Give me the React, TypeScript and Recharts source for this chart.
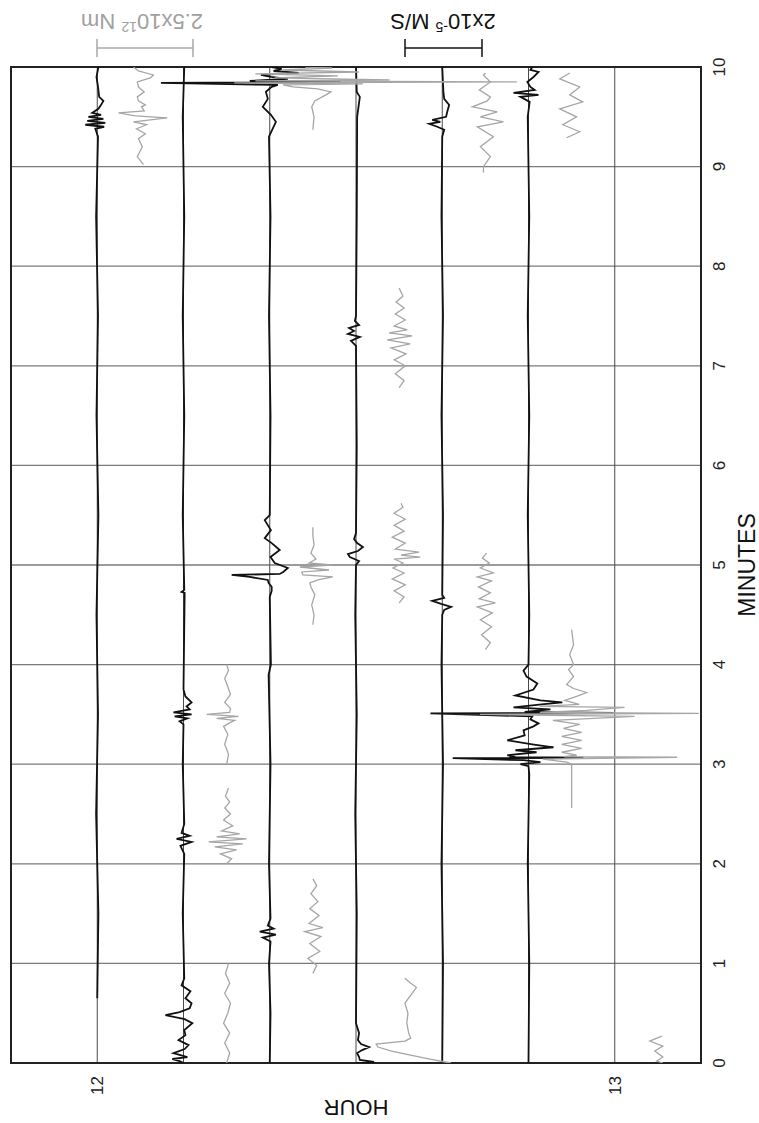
import { CartesianGrid, Line, LineChart, ReferenceArea, XAxis, YAxis } from 'recharts';

const FONT = '"Liberation Sans", Arial, Helvetica, sans-serif';

type Pt = [number, number]; // [minute, amplitude]

const MINUTE_TICKS = [0, 1, 2, 3, 4, 5, 6, 7, 8, 9, 10];
const HOUR_TICKS = [12, 73 / 6, 74 / 6, 12.5, 76 / 6, 77 / 6, 13];
const Y_MIN = 71 / 6;
const Y_MAX = 79 / 6;

// hours of row offset per unit of amplitude (from the scale bars)
const VEL_GAIN = 0.00743; // per 1e-6 m/s
const MOM_GAIN = 0.00741; // per 1e11 Nm

// velocity rows, amplitude in 1e-6 m/s
const VEL_1200: Pt[] = [
  [0.65, 0], [1.5, 0.3], [2.5, -0.3], [3.5, 0.2], [4.5, -0.2], [5.5, 0.3], [6.5, -0.2], [7.5, 0.2],
  [8.5, -0.3], [9.3, 0.2], [9.38, -0.5], [9.4, 1.8], [9.42, -3.1], [9.44, 2.1], [9.46, -2.6], [9.48, 1.6],
  [9.5, -2.3], [9.52, 1.0], [9.54, -1.3], [9.58, 0.3], [9.62, 1.0], [9.66, 1.6], [9.7, 0.5], [9.8, 0.2],
  [9.9, -0.2], [10, 0.3],
];
const VEL_1210: Pt[] = [
  [0, 0], [0.02, -1.0], [0.04, -2.9], [0.06, 1.0], [0.1, -2.6], [0.14, 0.3], [0.18, 1.3], [0.23, -1.3],
  [0.28, 0.5], [0.33, 0.2], [0.4, 2.3], [0.44, 0.3], [0.48, -4.7], [0.51, -1.0], [0.55, 1.6], [0.6, 2.1],
  [0.65, 0.5], [0.72, 1.8], [0.78, -0.5], [0.85, 0.2], [1.5, -0.2], [2.1, 0.2], [2.18, -0.8], [2.22, 2.1],
  [2.25, -1.8], [2.28, 1.6], [2.31, -0.5], [2.4, 0.2], [3.0, -0.2], [3.4, 0], [3.43, -1.0], [3.46, 1.0],
  [3.48, -2.3], [3.5, 2.1], [3.52, -2.6], [3.55, 1.6], [3.58, 0.8], [3.62, 2.1], [3.68, 0.5], [3.75, 0],
  [4.72, 0.3], [4.73, -0.5], [4.75, 0.2], [5.5, -0.2], [6.5, 0.2], [7.5, -0.2], [8.5, 0.2], [9.5, -0.2],
  [10, 0.2],
];
const VEL_1220: Pt[] = [
  [0, 0], [0.5, 0.2], [1.0, -0.2], [1.22, 0.2], [1.26, -1.8], [1.29, 1.6], [1.32, -2.6], [1.35, 1.0],
  [1.38, -0.5], [1.45, 0.2], [2.0, -0.2], [3.0, 0.2], [3.9, -0.3], [4.0, 0.3], [4.68, 0], [4.74, 0.5],
  [4.78, 0.5], [4.82, -0.3], [4.85, -0.5], [4.88, -5.2], [4.9, -9.9], [4.91, 2.6], [4.93, 3.5], [4.97, 4.7],
  [5.02, 1.3], [5.08, 0.2], [5.15, 2.6], [5.22, 0.5], [5.27, -1.3], [5.35, 0.3], [5.45, -1.3], [5.5, 0],
  [6.5, 0.2], [7.5, -0.2], [8.5, 0.2], [9.3, -0.2], [9.45, 1.6], [9.52, 0.3], [9.6, -1.8], [9.68, -0.5],
  [9.75, -1.0], [9.8, 0.5], [9.82, 2.1], [9.84, -28.3], [9.85, 18.4], [9.86, -5.2], [9.88, 4.7], [9.9, 0.3],
  [9.92, -2.3], [9.94, 7.5], [9.96, 1.0], [9.98, 3.1], [10, 0.5],
];
const VEL_1230: Pt[] = [
  [0, 0], [0.01, 4.7], [0.03, 1.0], [0.06, 0.8], [0.1, 0.3], [0.13, 1.6], [0.16, 3.4], [0.19, 1.3],
  [0.23, 0.5], [0.3, 0.8], [0.4, 0], [1.5, 0.2], [2.5, -0.2], [3.5, 0.2], [4.5, -0.2], [5.0, 0],
  [5.04, 0.8], [5.08, -1.6], [5.11, -2.1], [5.14, 0.5], [5.18, 1.8], [5.22, 0.3], [5.26, -0.5], [5.32, 0],
  [6.2, 0.2], [7.2, 0], [7.25, -1.3], [7.29, 1.0], [7.32, -2.1], [7.35, -0.5], [7.38, -1.8], [7.41, 0.8],
  [7.45, -0.3], [7.5, 0], [8.5, 0.2], [9.5, 0.3], [9.7, 1.0], [9.75, 0.2], [10, 0],
];
const VEL_1240: Pt[] = [
  [0, 0], [1, 0.2], [2, -0.2], [3, 0.2], [4, -0.2], [4.5, 0], [4.55, 0.5], [4.58, 2.3], [4.61, -0.3],
  [4.64, -2.6], [4.67, 0.5], [4.7, 0], [5.5, 0.2], [6.5, -0.2], [7.5, 0.2], [8.5, -0.2], [9.3, 0],
  [9.37, 0.5], [9.4, -1.3], [9.43, -3.4], [9.45, -0.5], [9.47, -2.6], [9.5, 1.0], [9.55, 1.3], [9.62, 1.8],
  [9.68, 0.5], [9.75, 0.3], [10, 0],
];
const VEL_1250: Pt[] = [
  [0, 0], [1, 0.2], [2, -0.2], [2.9, 0.2], [2.98, 0], [3.0, -2.1], [3.02, 3.1], [3.04, -1.3], [3.06, -19.7],
  [3.065, 14.3], [3.07, -3.4], [3.09, -5.5], [3.12, 2.1], [3.14, -3.4], [3.17, 6.5], [3.2, 1.0], [3.24, -5.5],
  [3.29, -1.0], [3.34, -1.3], [3.38, 1.3], [3.41, 2.6], [3.45, 0.5], [3.48, 1.0], [3.51, -25.5], [3.515, 22.1],
  [3.525, -1.0], [3.55, 5.7], [3.57, -3.9], [3.6, 3.4], [3.62, 8.8], [3.64, 3.1], [3.69, -3.4], [3.75, 1.3],
  [3.81, 2.3], [3.88, -0.5], [3.94, -1.3], [4.0, 0], [4.5, 0.2], [5.5, -0.2], [6.5, 0.2], [7.5, -0.2],
  [8.5, 0.2], [9.5, -0.2], [9.65, 0.3], [9.7, -2.1], [9.72, 2.6], [9.74, -3.9], [9.77, 1.6], [9.8, 0.5],
  [9.85, -0.3], [9.9, 1.3], [9.95, 2.6], [9.97, 0.5], [10, 1.0],
];

// moment rows (grey), amplitude in 1e11 Nm, drawn only where recorded
const MOM_1205_A: Pt[] = [
  [9.02, 0.8], [9.1, -0.8], [9.2, 0.5], [9.28, -0.5], [9.33, 1.3], [9.38, -1.0], [9.42, 1.6], [9.45, -1.8],
  [9.49, 7.0], [9.51, -1.3], [9.54, -5.7], [9.56, 1.0], [9.6, 0.3], [9.62, 1.3], [9.66, -0.5], [9.7, -0.8],
  [9.75, 1.0], [9.8, -0.5], [9.85, -0.8], [9.89, 2.6], [9.92, 3.4], [9.96, -0.5], [10, -1.8],
];
const MOM_1215_A: Pt[] = [
  [0, 0], [0.1, 0.8], [0.2, -0.5], [0.3, 0.8], [0.4, -0.8], [0.5, 0.3], [0.6, 1.0], [0.7, -0.5], [0.8, 0.8],
  [0.9, -0.3], [1.0, 0.5],
];
const MOM_1215_B: Pt[] = [
  [2.0, 0], [2.05, 1.3], [2.1, -1.6], [2.14, 2.6], [2.17, -3.1], [2.2, 4.2], [2.22, -4.7], [2.25, 5.2],
  [2.27, -2.6], [2.3, 3.4], [2.33, -1.3], [2.38, 1.6], [2.44, -0.8], [2.5, 1.0], [2.56, -0.5], [2.62, 0.8],
  [2.68, -0.3], [2.76, 0.5],
];
const MOM_1215_C: Pt[] = [
  [3.0, 0], [3.1, 0.5], [3.2, -0.5], [3.3, 0.3], [3.38, -0.8], [3.42, 1.0], [3.44, 2.1], [3.46, -2.6],
  [3.48, 3.1], [3.5, -5.2], [3.52, 0.8], [3.56, 1.0], [3.62, -0.5], [3.7, 1.0], [3.78, 0.3], [3.86, -0.5],
  [3.94, 0.5], [4.0, 0],
];
const MOM_1225_A: Pt[] = [
  [0.9, 0], [0.98, 1.0], [1.05, -1.3], [1.12, 1.8], [1.2, -0.8], [1.27, 2.1], [1.32, -2.1], [1.36, 2.6],
  [1.4, -1.0], [1.48, 1.6], [1.55, -0.8], [1.62, 1.3], [1.7, -0.5], [1.78, 1.0], [1.85, 0],
];
const MOM_1225_B: Pt[] = [
  [4.4, 0], [4.5, 0.3], [4.6, -0.3], [4.7, 0.5], [4.78, -0.5], [4.82, -0.8], [4.85, 1.3], [4.88, 5.2],
  [4.9, -2.6], [4.93, -2.9], [4.95, 4.2], [4.98, -3.4], [5.0, 4.9], [5.02, -1.0], [5.06, 0.8], [5.12, -0.5],
  [5.2, 0.3], [5.3, 0], [5.38, 0],
];
const MOM_1225_C: Pt[] = [
  [9.37, 0], [9.5, 0.3], [9.6, -0.3], [9.66, 0.5], [9.72, 3.4], [9.75, 4.7], [9.78, 1.3], [9.8, -5.2],
  [9.82, -7.8], [9.83, 13], [9.84, -20.5], [9.85, 53.2], [9.86, -15], [9.87, 20], [9.89, -10], [9.91, 6.5],
  [9.93, -15], [9.95, 12], [9.97, -8], [9.99, 5], [10, -2],
];
const MOM_1235_A: Pt[] = [
  [0, 13.5], [0.01, 12], [0.04, 8], [0.08, 3], [0.12, -2], [0.16, -5.5], [0.19, -6], [0.22, 1.5], [0.25, 3],
  [0.3, 2.5], [0.4, 2], [0.5, 2.3], [0.6, 1.5], [0.7, 3.4], [0.76, 4.5], [0.8, 3], [0.85, 1.5],
];
const MOM_1235_B: Pt[] = [
  [4.62, 0], [4.68, 1.3], [4.74, -1.3], [4.8, 1.6], [4.86, -1.8], [4.92, 1.3], [4.97, -1.6], [5.02, 1.0],
  [5.06, -1.3], [5.08, 5.5], [5.1, 0.5], [5.13, 5.2], [5.16, -1.0], [5.22, 1.6], [5.28, -1.8], [5.34, 1.3],
  [5.4, -1.3], [5.46, 1.6], [5.52, -1.3], [5.58, 1.0], [5.62, 0.5],
];
const MOM_1235_C: Pt[] = [
  [6.78, 0], [6.85, 1.3], [6.92, -1.0], [7.0, 1.6], [7.06, -1.3], [7.12, 1.8], [7.18, -2.1], [7.22, 2.9],
  [7.26, -3.1], [7.3, 3.4], [7.33, -2.6], [7.36, 2.1], [7.4, -1.3], [7.46, 1.6], [7.52, -1.0], [7.58, 1.3],
  [7.64, -0.8], [7.7, 1.0], [7.78, 0],
];
const MOM_1245_A: Pt[] = [
  [4.15, 0], [4.22, 1.3], [4.3, -1.0], [4.38, 1.6], [4.45, -1.3], [4.52, 1.8], [4.58, -2.1], [4.62, 2.6],
  [4.66, -1.6], [4.72, 1.3], [4.78, -1.8], [4.84, 1.6], [4.88, -2.1], [4.92, 2.1], [4.97, -1.3], [5.02, 1.0],
  [5.07, -0.8], [5.12, 0.3],
];
const MOM_1245_B: Pt[] = [
  [8.94, -0.5], [9.0, -0.5], [9.1, 1.3], [9.2, -1.3], [9.3, 2.1], [9.4, -2.1], [9.45, 4.7], [9.5, -1.3],
  [9.55, 3.1], [9.6, -3.4], [9.66, 0.5], [9.7, 1.3], [9.77, -1.6], [9.85, 1.3], [9.92, -0.5], [9.94, 0],
];
const MOM_1255_A: Pt[] = [
  [2.56, 0], [2.7, 0], [2.9, 0], [3.0, 0], [3.02, -1.3], [3.05, -7.5], [3.07, 27.5], [3.075, -2],
  [3.09, 1.3], [3.12, -2.6], [3.16, 2.6], [3.2, -2.6], [3.24, 2.6], [3.28, -2.6], [3.32, 2.6], [3.36, -2.1],
  [3.4, 2.1], [3.44, -4.9], [3.48, 16.4], [3.5, -23.9], [3.51, 33.2], [3.52, -8.3], [3.54, 4], [3.57, 13.8],
  [3.58, -8.3], [3.6, 2], [3.64, -1.8], [3.68, 1.3], [3.72, 3.9], [3.76, 0.5], [3.8, -1.3], [3.88, 0.5],
  [3.95, -0.8], [4.0, 0.5], [4.1, -0.5], [4.2, 0.5], [4.35, 0],
];
const MOM_1255_B: Pt[] = [
  [9.29, -1.3], [9.35, 2.1], [9.42, -2.3], [9.5, 1.3], [9.58, -3.1], [9.65, 2.9], [9.72, -0.5], [9.8, 2.1],
  [9.88, -3.1], [9.94, -0.5],
];
const MOM_1305_A: Pt[] = [
  [0, 1.3], [0.02, -0.3], [0.06, 1.3], [0.12, -0.8], [0.17, 1.3], [0.22, -2.1], [0.27, 1.0],
];

const VEL_ROWS = [
  { hour: 12, pts: VEL_1200 },
  { hour: 12 + 10 / 60, pts: VEL_1210 },
  { hour: 12 + 20 / 60, pts: VEL_1220 },
  { hour: 12 + 30 / 60, pts: VEL_1230 },
  { hour: 12 + 40 / 60, pts: VEL_1240 },
  { hour: 12 + 50 / 60, pts: VEL_1250 },
];
const MOM_ROWS = [
  { hour: 12 + 5 / 60, segs: [MOM_1205_A] },
  { hour: 12 + 15 / 60, segs: [MOM_1215_A, MOM_1215_B, MOM_1215_C] },
  { hour: 12 + 25 / 60, segs: [MOM_1225_A, MOM_1225_B, MOM_1225_C] },
  { hour: 12 + 35 / 60, segs: [MOM_1235_A, MOM_1235_B, MOM_1235_C] },
  { hour: 12 + 45 / 60, segs: [MOM_1245_A, MOM_1245_B] },
  { hour: 12 + 55 / 60, segs: [MOM_1255_A, MOM_1255_B] },
  { hour: 13 + 5 / 60, segs: [MOM_1305_A] },
];

const toRows = (pts: Pt[], hour: number, gain: number) =>
  pts.map(([t, a]) => ({ t, v: hour + a * gain }));

const hourLabel = (v: number) =>
  Math.abs(v - 12) < 1e-6 ? '12' : Math.abs(v - 13) < 1e-6 ? '13' : '';

export default function App() {
  const tickStyle = { fontSize: 17, fill: '#222', fontFamily: FONT };
  return (
    <div
      style={{
        position: 'absolute',
        left: 0,
        top: 0,
        width: 759,
        height: 1123,
        overflow: 'hidden',
        background: '#fff',
        fontFamily: FONT,
      }}
    >
      {/* chart is laid out with minutes across, then turned a quarter turn */}
      <div
        style={{
          position: 'absolute',
          left: 0,
          top: 0,
          width: 1123,
          height: 759,
          transformOrigin: '0 0',
          transform: 'translateY(1123px) rotate(-90deg)',
        }}
      >
        <LineChart width={1123} height={759} margin={{ top: 11, right: 67, bottom: 28, left: 20 }}>
          <CartesianGrid horizontal={false} stroke="#7a7a7a" strokeWidth={1.3} />
          <CartesianGrid vertical={false} stroke="#4a4a4a" strokeWidth={1} />
          <XAxis
            type="number"
            dataKey="t"
            domain={[0, 10]}
            ticks={MINUTE_TICKS}
            interval={0}
            allowDataOverflow
            tickLine={false}
            axisLine={false}
            tickSize={0}
            tickMargin={12}
            height={30}
            tick={tickStyle}
          />
          <YAxis
            type="number"
            domain={[Y_MIN, Y_MAX]}
            reversed
            ticks={HOUR_TICKS}
            interval={0}
            allowDataOverflow
            tickFormatter={hourLabel}
            tickLine={false}
            axisLine={false}
            tickSize={0}
            tickMargin={13}
            width={40}
            tick={tickStyle}
          />
          {VEL_ROWS.map((r, i) => (
            <Line
              key={'v' + i}
              data={toRows(r.pts, r.hour, VEL_GAIN)}
              dataKey="v"
              type="linear"
              stroke="#111"
              strokeWidth={1.8}
              dot={false}
              isAnimationActive={false}
            />
          ))}
          {MOM_ROWS.flatMap((r, i) =>
            r.segs.map((s, j) => (
              <Line
                key={'m' + i + '-' + j}
                data={toRows(s, r.hour, MOM_GAIN)}
                dataKey="v"
                type="linear"
                stroke="#a6a6a6"
                strokeWidth={1.3}
                dot={false}
                isAnimationActive={false}
              />
            ))
          )}
          <ReferenceArea x1={0} x2={10} y1={Y_MIN} y2={Y_MAX} fill="none" stroke="#222" strokeWidth={2} />
        </LineChart>
      </div>

      <svg
        width={759}
        height={1123}
        style={{ position: 'absolute', left: 0, top: 0, pointerEvents: 'none' }}
        fontFamily={FONT}
      >
        {/* scale bars */}
        <g stroke="#a8a8a8" strokeWidth={1.5}>
          <line x1={97} y1={48} x2={193} y2={48} />
          <line x1={97} y1={39} x2={97} y2={57} />
          <line x1={193} y1={39} x2={193} y2={57} />
        </g>
        <text x={142} y={30} transform="rotate(180 142 22)" textAnchor="middle" fontSize={22} fill="#a0a0a0">
          2.5x10
          <tspan dy={-8} fontSize={14}>12</tspan>
          <tspan dy={8}> Nm</tspan>
        </text>
        <g stroke="#111" strokeWidth={1.5}>
          <line x1={405} y1={48} x2={482} y2={48} />
          <line x1={405} y1={39} x2={405} y2={57} />
          <line x1={482} y1={39} x2={482} y2={57} />
        </g>
        <text x={443} y={30} transform="rotate(180 443 22)" textAnchor="middle" fontSize={22} fill="#111">
          2x10
          <tspan dy={-8} fontSize={14}>-5</tspan>
          <tspan dy={8}> M/S</tspan>
        </text>
        {/* axis titles */}
        <text x={746} y={574} transform="rotate(-90 746 565)" textAnchor="middle" fontSize={23} fill="#111">
          MINUTES
        </text>
        <text x={356} y={1116} transform="rotate(180 356 1108)" textAnchor="middle" fontSize={22} fill="#111">
          HOUR
        </text>
      </svg>
    </div>
  );
}
